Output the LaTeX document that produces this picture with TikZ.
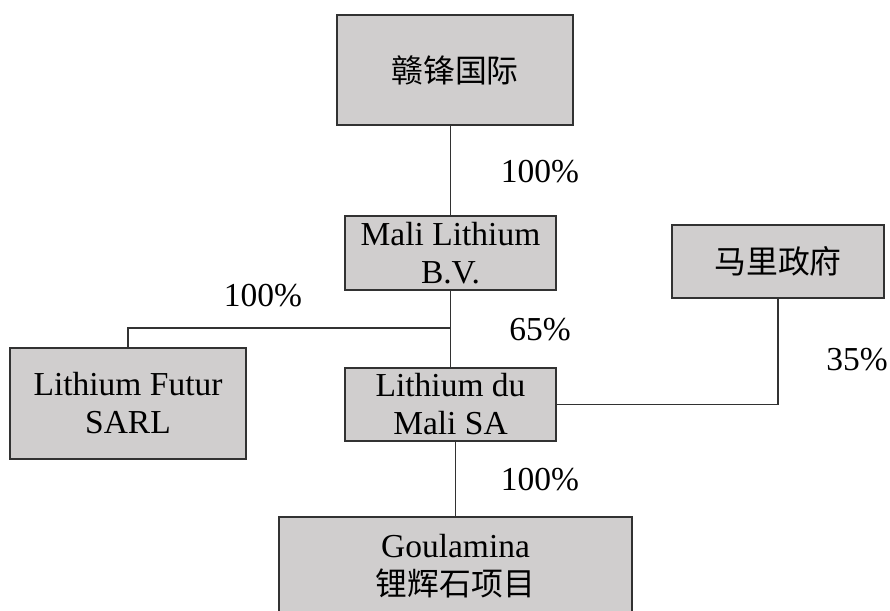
\documentclass[tikz,border=0pt]{standalone}
\usepackage{fontspec}
\setmainfont{Liberation Serif}
\newfontfamily\cjk{Noto Sans CJK SC}[Scale=0.95]
\definecolor{boxgray}{RGB}{208,206,206}
\definecolor{edgegray}{RGB}{50,50,50}
\begin{document}
\begin{tikzpicture}[x=1pt,y=-1pt,
  box/.style={draw=edgegray, fill=boxgray, line width=1.3pt, align=center, inner sep=0pt,
    font=\fontsize{33.5}{38}\selectfont},
  link/.style={draw=edgegray, line width=1.2pt},
  pct/.style={font=\fontsize{33.5}{38}\selectfont, inner sep=0pt}]
\useasboundingbox (0,0) rectangle (890,610);
\clip (0,0) rectangle (890,610);
\node[box, minimum width=236pt, minimum height=110pt] (top) at (455,70) {\cjk 赣锋国际};
\node[box, minimum width=211pt, minimum height=74pt] (mali) at (450.5,253) {Mali Lithium\\B.V.};
\node[box, minimum width=211pt, minimum height=73pt] (ldm) at (450.5,404.5) {Lithium du\\Mali SA};
\node[box, minimum width=236pt, minimum height=111pt] (lf) at (128,403.5) {Lithium Futur\\SARL};
\node[box, minimum width=212pt, minimum height=73pt] (gov) at (778,261.5) {\cjk 马里政府};
\node[box, minimum width=353pt, minimum height=98pt] (gou) at (455.5,566) {Goulamina\\{\cjk 锂辉石项目}};
\coordinate (j) at (450,328);
\draw[link] (mali.north) -- (mali.north |- top.south);
\draw[link] (mali.south) -- (ldm.north);
\draw[link] (lf.north) |- (j);
\draw[link] (ldm.east) -| (gov.south);
\draw[link] (gou.north) -- (gou.north |- ldm.south);
\node[pct] (p1) at (540,172) {100\%};
\node[pct] (p2) at (263,296) {100\%};
\node[pct] (p3) at (540,330) {65\%};
\node[pct] (p4) at (857,360) {35\%};
\node[pct] (p5) at (540,480) {100\%};
\end{tikzpicture}
\end{document}
